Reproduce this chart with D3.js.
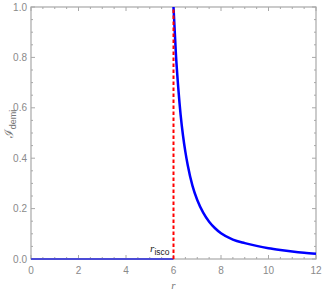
<!DOCTYPE html>
<html>
<head>
<meta charset="utf-8">
<script src="https://cdn.jsdelivr.net/npm/d3@7"></script>
<style>
  body { margin: 0; background: #fff; }
  .tick-label { font-family: 'Liberation Sans Narrow', 'Liberation Sans', sans-serif; font-size: 10px; fill: #8a8a8a; }
  .frame { fill: none; stroke: #a8a8a8; stroke-width: 1.2; }
  .tick { stroke: #a8a8a8; stroke-width: 1; }
</style>
</head>
<body>
<div id="wrapper"></div>
<script>
// data
const rFlat = [0, 6];
const iFlat = [0, 0];
const rCurve = [6, 6.1, 6.2, 6.3, 6.4, 6.5, 6.6, 6.8, 7.0, 7.25, 7.5, 7.75, 8.0, 8.5, 9, 9.5, 10, 10.5, 11, 11.5, 12];
const iCurve = [1.0, 0.815, 0.68, 0.572, 0.49, 0.425, 0.372, 0.29, 0.234, 0.184, 0.148, 0.122, 0.102, 0.077, 0.063, 0.052, 0.043, 0.036, 0.030, 0.025, 0.021];
const rIsco = 6;
const xTicks = [0, 2, 4, 6, 8, 10, 12];
const yTicks = [0, 0.2, 0.4, 0.6, 0.8, 1.0];

function drawChart() {
  const dimensions = {
    width: 322,
    height: 300,
    margin: { top: 7, right: 6, bottom: 41, left: 31 },
  };
  dimensions.boundedWidth = dimensions.width - dimensions.margin.left - dimensions.margin.right;
  dimensions.boundedHeight = dimensions.height - dimensions.margin.top - dimensions.margin.bottom;

  const wrapper = d3.select('#wrapper').append('svg')
    .attr('width', dimensions.width)
    .attr('height', dimensions.height);

  const bounds = wrapper.append('g')
    .attr('transform', `translate(${dimensions.margin.left},${dimensions.margin.top})`);

  const xScale = d3.scaleLinear().domain([0, 12]).range([0, dimensions.boundedWidth]);
  const yScale = d3.scaleLinear().domain([0, 1]).range([dimensions.boundedHeight, 0]);

  // frame with inward ticks on all four sides
  const W = dimensions.boundedWidth, H = dimensions.boundedHeight;
  bounds.append('rect').attr('class', 'frame').attr('width', W).attr('height', H);

  const xMinor = d3.range(0, 12.001, 0.5);
  const yMinor = d3.range(0, 1.0001, 0.05);
  xMinor.forEach((v) => {
    const major = Math.abs(v / 2 - Math.round(v / 2)) < 1e-6;
    const len = major ? 4 : 2;
    bounds.append('line').attr('class', 'tick')
      .attr('x1', xScale(v)).attr('x2', xScale(v)).attr('y1', H).attr('y2', H - len);
    bounds.append('line').attr('class', 'tick')
      .attr('x1', xScale(v)).attr('x2', xScale(v)).attr('y1', 0).attr('y2', len);
  });
  yMinor.forEach((v) => {
    const major = Math.abs(v / 0.2 - Math.round(v / 0.2)) < 1e-6;
    const len = major ? 4 : 2;
    bounds.append('line').attr('class', 'tick')
      .attr('y1', yScale(v)).attr('y2', yScale(v)).attr('x1', 0).attr('x2', len);
    bounds.append('line').attr('class', 'tick')
      .attr('y1', yScale(v)).attr('y2', yScale(v)).attr('x1', W).attr('x2', W - len);
  });

  bounds.selectAll('.x-label').data(xTicks).join('text')
    .attr('class', 'tick-label')
    .attr('x', (d) => xScale(d))
    .attr('y', H + 15)
    .attr('text-anchor', 'middle')
    .text((d) => d);

  bounds.selectAll('.y-label').data(yTicks).join('text')
    .attr('class', 'tick-label')
    .attr('x', -4)
    .attr('y', (d) => yScale(d) + 3.5)
    .attr('text-anchor', 'end')
    .text((d) => d.toFixed(1));

  // axis titles
  const yTitle = wrapper.append('text')
    .attr('transform', 'translate(13,124) rotate(-90)')
    .attr('text-anchor', 'middle')
    .style('fill', '#777');
  yTitle.append('tspan').text('ℐ')
    .style('font-family', "'DejaVu Serif', serif").style('font-size', '12px');
  yTitle.append('tspan').text('demi').attr('dy', 3)
    .style('font-family', "'Liberation Sans', sans-serif").style('font-size', '9px');

  wrapper.append('text')
    .attr('x', dimensions.margin.left + xScale(6))
    .attr('y', 289)
    .attr('text-anchor', 'middle')
    .style('font-family', "'Liberation Serif', serif")
    .style('font-style', 'italic')
    .style('font-size', '11px')
    .style('fill', '#777')
    .text('r');

  // data
  const line = d3.line().x((d) => xScale(d[0])).y((d) => yScale(d[1]));

  bounds.append('path')
    .attr('d', line(d3.zip(rFlat, iFlat)))
    .attr('fill', 'none')
    .attr('stroke', '#4b4bd6')
    .attr('stroke-width', 2);

  bounds.append('path')
    .attr('d', line.curve(d3.curveMonotoneX)(d3.zip(rCurve, iCurve)))
    .attr('fill', 'none')
    .attr('stroke', '#0000ff')
    .attr('stroke-width', 2.5);

  bounds.append('line')
    .attr('x1', xScale(rIsco)).attr('x2', xScale(rIsco))
    .attr('y1', yScale(0)).attr('y2', yScale(1))
    .attr('stroke', '#ff0000')
    .attr('stroke-width', 2)
    .attr('stroke-dasharray', '3.5,2.5');

  const isco = bounds.append('text')
    .attr('x', xScale(rIsco) - 4)
    .attr('y', yScale(0) - 7)
    .attr('text-anchor', 'end')
    .style('fill', '#222');
  isco.append('tspan').text('r')
    .style('font-family', "'Liberation Serif', serif").style('font-style', 'italic').style('font-size', '11px');
  isco.append('tspan').text('isco').attr('dy', 2.5)
    .style('font-family', "'Liberation Sans', sans-serif").style('font-size', '8.5px');
}
drawChart();
</script>
</body>
</html>
